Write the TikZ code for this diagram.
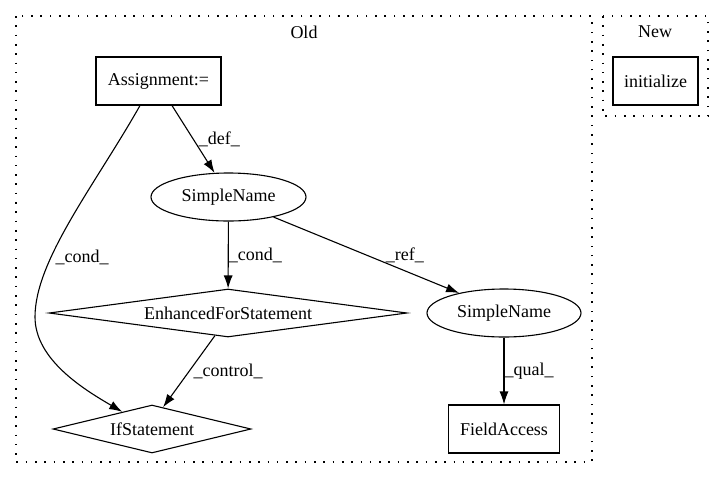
\documentclass[tikz,border=0pt]{standalone}
\usepackage{fontspec}
\setmainfont{Liberation Serif}
\usetikzlibrary{shapes.geometric,arrows.meta}

\begin{document}
\begin{tikzpicture}[x=1pt,y=-1pt,line width=1.1pt,
    every node/.style={font=\fontsize{18}{20}\selectfont},
    stmtbox/.style={draw,rectangle,minimum height=48pt,inner sep=0pt},
    nameoval/.style={draw,ellipse,minimum width=155pt,minimum height=48pt,inner sep=0pt},
    ctrldiamond/.style={draw,diamond,inner sep=0pt,aspect=8},
    cluster/.style={draw,line width=1.3pt,dash pattern=on 1.6pt off 7.7pt},
    flow/.style={-{Latex[length=13pt,width=9pt]}},
    flowlabel/.style={inner sep=0pt}]
    \useasboundingbox (0,0) rectangle (725,480);

    % clusters
    \draw[cluster] (16,16) rectangle (592,462);
    \draw[cluster] (603,16) rectangle (708,116);
    \node (oldlabel) at (304,32) {Old};
    \node (newlabel) at (655,32) {New};

    % nodes
    \node[stmtbox, minimum width=125pt] (assign) at (158.5,81) {Assignment:=};
    \node[stmtbox, minimum width=85pt] (init) at (655.5,81) {initialize};
    \node[nameoval] (name1) at (228.5,197) {SimpleName};
    \node[ctrldiamond, minimum width=358pt, minimum height=48pt] (efor) at (228,313) {EnhancedForStatement};
    \node[nameoval, minimum width=154pt] (name2) at (504,313) {SimpleName};
    \node[ctrldiamond, aspect=6, minimum width=198pt, minimum height=48pt] (ifst) at (152,429) {IfStatement};
    \node[stmtbox, minimum width=111pt] (field) at (504,429) {FieldAccess};

    % edges
    \draw[flow] ([xshift=13.5pt]assign.south) -- (name1.120)
        node[flowlabel, pos=0.5, right=5pt] {\_def\_};
    \draw[flow] ([xshift=-18.5pt]assign.south) .. controls (95,185) and (35,260) .. (35,317)
        node[flowlabel, pos=0.68, right=4pt] {\_cond\_}
        .. controls (35,360) and (85,390) .. (ifst.150);
    \draw[flow] (name1) -- (efor)
        node[flowlabel, midway, right=0pt] {\_cond\_};
    \draw[flow] (name1.-24) -- (name2.156)
        node[flowlabel, pos=0.5, right=19pt] {\_ref\_};
    \draw[flow] (efor.-120) -- (ifst.63)
        node[flowlabel, pos=0.5, right=4pt] {\_control\_};
    \draw[flow] (name2) -- (field)
        node[flowlabel, midway, right=0pt] {\_qual\_};
\end{tikzpicture}
\end{document}
